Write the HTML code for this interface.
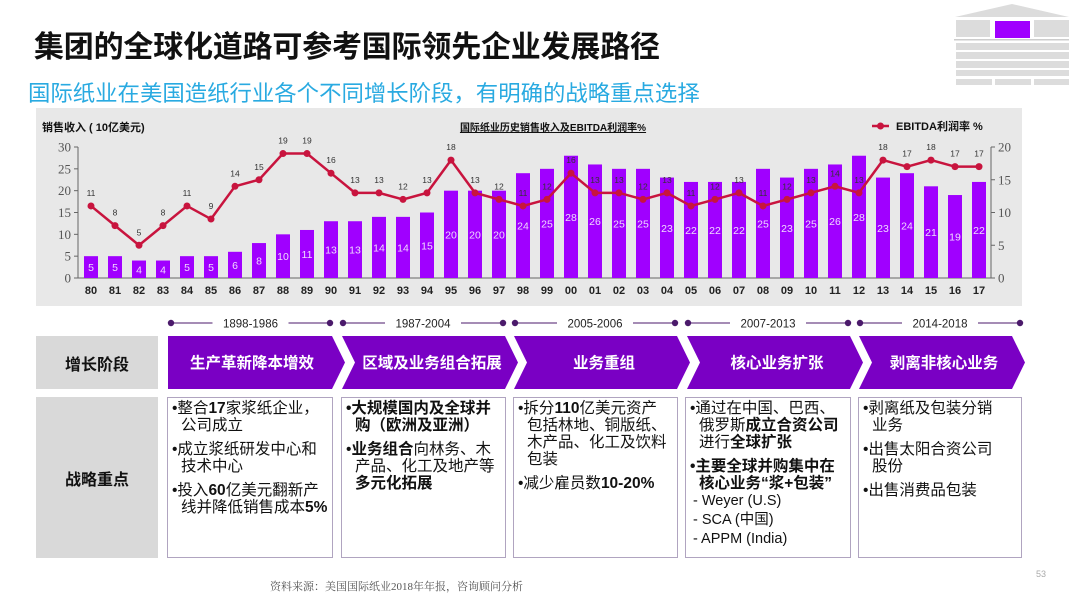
<!DOCTYPE html>
<html><head><meta charset="utf-8">
<style>
*{margin:0;padding:0;box-sizing:border-box}
body{width:1080px;height:608px;background:#fff;position:relative;overflow:hidden;font-family:"Liberation Sans","Noto Sans CJK SC",sans-serif}
.abs{position:absolute}
.title{left:34px;top:22px;font-size:30px;font-weight:bold;color:#111;letter-spacing:-0.2px;white-space:nowrap}
.sub{left:28px;top:76px;font-size:22.4px;color:#29aae1;white-space:nowrap}
.glabel{background:#d9d9d9;display:flex;align-items:center;justify-content:center;font-weight:bold;font-size:16px;color:#111}
.box{border:1.5px solid #b0a4c0;background:#fff;font-size:15.5px;line-height:17px;color:#111;padding:2px 3px 0 4px;white-space:nowrap}
.box p{padding-left:9px;text-indent:-9px;margin-bottom:7px}
.box p.d{margin-bottom:2px;line-height:17px;padding-left:3px;text-indent:0;font-size:14.5px}
b{font-weight:bold}
</style></head><body>
<div class="abs title">集团的全球化道路可参考国际领先企业发展路径</div>
<div class="abs sub">国际纸业在美国造纸行业各个不同增长阶段，有明确的战略重点选择</div>

<svg class="abs" style="left:0;top:0" width="1080" height="608">
 <g fill="#dcdcdc">
  <polygon points="955,17 1012,4 1069,17"/>
  <rect x="956" y="20" width="34" height="17"/><rect x="995" y="21" width="35" height="17" fill="#a000ff"/><rect x="1034" y="20" width="35" height="17"/>
  <rect x="954" y="39" width="115" height="1.5" fill="#ccc"/>
  <rect x="956" y="43" width="113" height="7"/><rect x="956" y="52" width="113" height="7"/><rect x="956" y="61" width="113" height="7"/><rect x="956" y="70" width="113" height="6"/>
  <rect x="956" y="79" width="36" height="6"/><rect x="995" y="79" width="36" height="6"/><rect x="1034" y="79" width="35" height="6"/>
 </g>
 <rect x="36" y="108" width="986" height="198" fill="#e8e8e8"/>
 <g id="chart"></g>
 <g id="timeline"></g>
 <g id="arrows"></g>
 <text x="270" y="590" font-family="Liberation Serif,Noto Serif CJK SC,serif" font-size="11" fill="#555">资料来源：美国国际纸业2018年年报，咨询顾问分析</text>
 <text x="1036" y="577" font-size="9" fill="#aaa">53</text>
</svg>

<div class="abs glabel" style="left:36px;top:336px;width:122px;height:53px">增长阶段</div>
<div class="abs glabel" style="left:36px;top:397px;width:122px;height:161px">战略重点</div>

<div class="abs box" style="left:167px;top:397px;width:166px;height:161px">
<p>•整合<b>17</b>家浆纸企业，<br>公司成立</p><p>•成立浆纸研发中心和<br>技术中心</p><p>•投入<b>60</b>亿美元翻新产<br>线并降低销售成本<b>5%</b></p></div>
<div class="abs box" style="left:341px;top:397px;width:165px;height:161px">
<p><b>•大规模国内及全球并<br>购（欧洲及亚洲）</b></p><p>•<b>业务组合</b>向林务、木<br>产品、化工及地产等<br><b>多元化拓展</b></p></div>
<div class="abs box" style="left:513px;top:397px;width:165px;height:161px">
<p>•拆分<b>110</b>亿美元资产<br>包括林地、铜版纸、<br>木产品、化工及饮料<br>包装</p><p>•减少雇员数<b>10-20%</b></p></div>
<div class="abs box" style="left:685px;top:397px;width:166px;height:161px">
<p>•通过在中国、巴西、<br>俄罗斯<b>成立合资公司</b><br>进行<b>全球扩张</b></p><p style="margin-bottom:1px"><b>•主要全球并购集中在<br>核心业务“浆+包装”</b></p>
<p class="d">- Weyer (U.S)</p><p class="d">- SCA (中国)</p><p class="d">- APPM (India)</p></div>
<div class="abs box" style="left:858px;top:397px;width:164px;height:161px">
<p>•剥离纸及包装分销<br>业务</p><p>•出售太阳合资公司<br>股份</p><p>•出售消费品包装</p></div>

<script>
const years=["80","81","82","83","84","85","86","87","88","89","90","91","92","93","94","95","96","97","98","99","00","01","02","03","04","05","06","07","08","09","10","11","12","13","14","15","16","17"];
const revenue=[5,5,4,4,5,5,6,8,10,11,13,13,14,14,15,20,20,20,24,25,28,26,25,25,23,22,22,22,25,23,25,26,28,23,24,21,19,22];
const ebitda=[11,8,5,8,11,9,14,15,19,19,16,13,13,12,13,18,13,12,11,12,16,13,13,12,13,11,12,13,11,12,13,14,13,18,17,18,17,17];
const leftTicks=[0,5,10,15,20,25,30];
const rightTicks=[0,5,10,15,20];
const phases=["1898-1986","1987-2004","2005-2006","2007-2013","2014-2018"];
const stages=["生产革新降本增效","区域及业务组合拓展","业务重组","核心业务扩张","剥离非核心业务"];

const NS="http://www.w3.org/2000/svg";
function mk(tag,attrs,parent,txt){const e=document.createElementNS(NS,tag);for(const k in attrs)e.setAttribute(k,attrs[k]);if(txt!==undefined)e.textContent=txt;parent.appendChild(e);return e;}
const g=document.getElementById('chart');
const x0=91,step=24,baseY=278,topY=147;
const xs=i=>x0+step*i;
const yL=v=>baseY-v*(baseY-topY)/30;
const yR=v=>baseY-v*(baseY-topY)/20;

let t=mk('text',{x:42,y:131,'font-size':11,'font-weight':'bold',fill:'#111'},g,'销售收入 ( 10亿美元)');


t=mk('text',{x:553,y:131,'font-size':10,'font-weight':'bold','text-anchor':'middle',fill:'#111','text-decoration':'underline'},g,'国际纸业历史销售收入及EBITDA利润率%');


let lg=mk('g',{},g);


mk('line',{x1:872,y1:126,x2:889,y2:126,stroke:'#c8143e','stroke-width':2.5},lg);
mk('circle',{cx:880.5,cy:126,r:3.5,fill:'#c8143e'},lg);
mk('text',{x:896,y:130,'font-size':11,'font-weight':'bold',fill:'#111'},lg,'EBITDA利润率 %');

mk('line',{x1:78,y1:topY,x2:78,y2:baseY,stroke:'#666'},g);
mk('line',{x1:78,y1:baseY,x2:991,y2:baseY,stroke:'#666'},g);
mk('line',{x1:991,y1:topY,x2:991,y2:baseY,stroke:'#666'},g);
leftTicks.forEach(v=>{mk('line',{x1:74,y1:yL(v),x2:78,y2:yL(v),stroke:'#666'},g);
 const e=mk('text',{x:71,y:yL(v)+4.5,'font-size':13,'text-anchor':'end',fill:'#555','font-family':'Liberation Serif,serif'},g,v);
 
 });
rightTicks.forEach(v=>{mk('line',{x1:991,y1:yR(v),x2:995,y2:yR(v),stroke:'#666'},g);
 const e=mk('text',{x:998,y:yR(v)+4.5,'font-size':13,fill:'#555','font-family':'Liberation Serif,serif'},g,v);
 
 });

years.forEach((yr,i)=>{
 const x=xs(i),v=revenue[i];
 const r=mk('rect',{x:x-7,y:yL(v),width:14,height:baseY-yL(v),fill:'#a000ff'},g);
 
 
 const bl=mk('text',{x:x,y:(yL(v)+baseY)/2+4,'font-size':10.5,'text-anchor':'middle',fill:'#f0d8ff'},g,v);
 
 
 const xl=mk('text',{x:x,y:294,'font-size':11,'font-weight':'bold','text-anchor':'middle',fill:'#222'},g,yr);
 
 
});
const pts=ebitda.map((v,i)=>xs(i)+','+yR(v)).join(' ');
const pl=mk('polyline',{points:pts,fill:'none',stroke:'#c8143e','stroke-width':2.5},g);


ebitda.forEach((v,i)=>{
 const c=mk('circle',{cx:xs(i),cy:yR(v),r:3.5,fill:'#c8143e'},g);
 
 
 const l=mk('text',{x:xs(i),y:yR(v)-10,'font-size':8.5,'text-anchor':'middle',fill:'#333'},g,v);
 
 
});

const tl=document.getElementById('timeline');
const segs=[[171,330],[343,503],[515,675],[688,848],[860,1020]];
segs.forEach((s,i)=>{
 const gg=mk('g',{},tl);
 
 
 mk('line',{x1:s[0],y1:323,x2:s[1],y2:323,stroke:'#4b1a6b','stroke-width':1},gg);
 mk('circle',{cx:s[0],cy:323,r:3.2,fill:'#4b1a6b'},gg);mk('circle',{cx:s[1],cy:323,r:3.2,fill:'#4b1a6b'},gg);
 const mid=(s[0]+s[1])/2;
 mk('rect',{x:mid-38,y:316,width:76,height:14,fill:'#fff'},gg);
 mk('text',{x:mid,y:327.5,'font-size':11.5,'text-anchor':'middle',fill:'#222'},gg,phases[i]);
});
const ar=document.getElementById('arrows');
const as=[168,342,514,687,859],ae=[332,505,677,850,1012];
stages.forEach((s,i)=>{
 const a=as[i],e=ae[i],T=336,B=389,M=362.5,d=13;
 const p=i===0?`${a},${T} ${e},${T} ${e+d},${M} ${e},${B} ${a},${B}`:`${a},${T} ${e},${T} ${e+d},${M} ${e},${B} ${a},${B} ${a+d},${M}`;
 const gg=mk('g',{},ar);
 
 
 mk('polygon',{points:p,fill:'#7a00c4'},gg);
 mk('text',{x:(a+e+(i===0?0:d))/2+2,y:368,'font-size':15.5,'font-weight':'bold','text-anchor':'middle',fill:'#fff'},gg,s);
});
</script>
</body></html>
